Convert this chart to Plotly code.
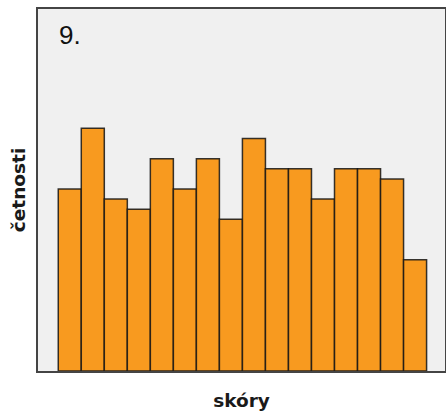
import plotly.graph_objects as go

scores = list(range(1, 17))
counts = [18, 24, 17, 16, 21, 18, 21, 15, 23, 20, 20, 17, 20, 20, 19, 11]
panel_label = "9."
x_title = "skóry"
y_title = "četnosti"

fig = go.Figure()
fig.add_trace(go.Bar(
    x=scores, y=counts, width=1,
    marker=dict(color="#F89A1F", line=dict(color="rgba(20,20,20,0.85)", width=1.5)),
))
fig.update_layout(
    width=446, height=415, autosize=False,
    margin=dict(l=38, r=1, t=9, b=44),
    plot_bgcolor="#F0F0F0", paper_bgcolor="white",
    showlegend=False,
    font=dict(family="DejaVu Sans", color="#1a1a1a"),
    xaxis=dict(range=[-0.38, 17.3], showticklabels=False, ticks="", showgrid=False,
               zeroline=False, showline=True, linecolor="#444", linewidth=1.5, mirror=True,
               automargin=False,
               title=dict(text="<b>" + x_title + "</b>", font=dict(size=18.5), standoff=22)),
    yaxis=dict(range=[0, 35.8], showticklabels=False, ticks="", showgrid=False,
               zeroline=False, showline=True, linecolor="#444", linewidth=1.5, mirror=True,
               automargin=False,
               title=dict(text="<b>" + y_title + "</b>", font=dict(size=18.5), standoff=6)),
    annotations=[dict(text=panel_label, x=0.047, y=0.975, xref="paper", yref="paper",
                      xanchor="left", yanchor="top", showarrow=False,
                      font=dict(size=26, family="Liberation Sans", color="#111111"))],
)
post = ("document.body.style.margin='0';document.body.style.padding='0';"
        "var gd=document.getElementById('{plot_id}');"
        "Plotly.relayout(gd,{width:446,height:415});")
fig.write_html("out.html", config={"responsive": False, "displayModeBar": False},
               post_script=post)
